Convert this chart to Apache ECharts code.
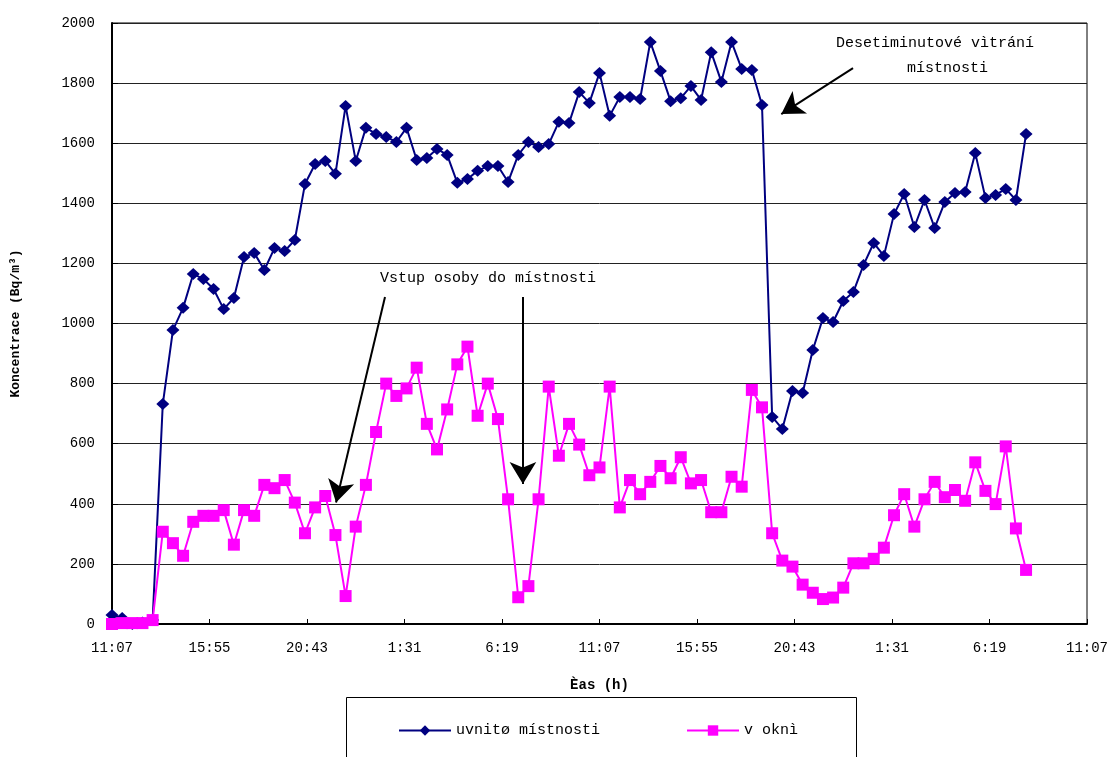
<!DOCTYPE html>
<html>
<head>
<meta charset="utf-8">
<script src="https://cdn.jsdelivr.net/npm/echarts@6/dist/echarts.min.js"></script>
<style>
  html, body { margin: 0; padding: 0; background: #fff; }
  #chart { width: 1115px; height: 757px; }
</style>
</head>
<body>
<div id="chart"></div>
<script>
// time of each sample, hours after 11:07 (one sample every 30 min)
const sampleHours = [
  0, 0.5, 1, 1.5, 2, 2.5, 3, 3.5, 4, 4.5, 5, 5.5, 6, 6.5, 7, 7.5, 8, 8.5, 9, 9.5,
  10, 10.5, 11, 11.5, 12, 12.5, 13, 13.5, 14, 14.5, 15, 15.5, 16, 16.5, 17, 17.5, 18, 18.5, 19, 19.5,
  20, 20.5, 21, 21.5, 22, 22.5, 23, 23.5, 24, 24.5, 25, 25.5, 26, 26.5, 27, 27.5, 28, 28.5, 29, 29.5,
  30, 30.5, 31, 31.5, 32, 32.5, 33, 33.5, 34, 34.5, 35, 35.5, 36, 36.5, 37, 37.5, 38, 38.5, 39, 39.5,
  40, 40.5, 41, 41.5, 42, 42.5, 43, 43.5, 44, 44.5, 45
];

// uvnitř místnosti
const inside = [
  30, 20, 0, 5, 13, 732, 978, 1052, 1165, 1148, 1115, 1048, 1085, 1221, 1235, 1178, 1251, 1241, 1278, 1464,
  1531, 1541, 1498, 1724, 1541, 1651, 1631, 1621, 1604, 1651, 1544, 1551, 1581, 1561, 1468, 1481, 1508, 1524, 1524, 1471,
  1561, 1604, 1587, 1597, 1671, 1667, 1770, 1734, 1834, 1691, 1754, 1754, 1747, 1937, 1840, 1740, 1750, 1790, 1744, 1903,
  1804, 1937, 1847, 1844, 1727, 689, 649, 775, 769, 912, 1018, 1005, 1075, 1105, 1195, 1268, 1225, 1364, 1431, 1321,
  1411, 1318, 1404, 1434, 1438, 1567, 1418, 1428, 1448, 1411, 1631
];

// v okně
const window_ = [
  0, 3, 3, 3, 13, 307, 269, 227, 340, 360, 360, 379, 264, 379, 360, 463, 452, 479, 404, 302,
  388, 426, 296, 93, 324, 463, 639, 800, 759, 784, 853, 666, 581, 714, 864, 923, 693, 800, 682, 415,
  89, 126, 415, 790, 560, 666, 597, 495, 521, 790, 388, 479, 432, 473, 526, 485, 555, 468, 479, 372,
  372, 490, 457, 779, 721, 302, 211, 191, 131, 104, 83, 88, 121, 202, 202, 217, 254, 362, 432, 324,
  415, 473, 422, 446, 410, 538, 443, 399, 591, 318, 180
];

const timeLabels = ['11:07', '15:55', '20:43', '1:31', '6:19', '11:07', '15:55', '20:43', '1:31', '6:19', '11:07'];

const MONO = '"Liberation Mono", "DejaVu Sans Mono", monospace';

const chart = echarts.init(document.getElementById('chart'));

const arrowLine = { color: '#000', width: 2, type: 'solid' };

const option = {
  animation: false,
  backgroundColor: '#fff',
  grid: {
    left: 112, right: 28, top: 23, bottom: 133,
    outerBoundsMode: 'none',
    show: true, borderColor: '#000', borderWidth: 1,
  },
  xAxis: {
    type: 'value',
    min: 0, max: 48, interval: 4.8,
    name: 'Èas (h)',
    nameLocation: 'middle',
    nameGap: 54,
    nameTextStyle: { fontFamily: MONO, fontWeight: 'bold', fontSize: 14, color: '#000' },
    axisLine: { lineStyle: { color: '#000', width: 2 } },
    axisTick: { inside: true, length: 5, lineStyle: { color: '#000' } },
    axisLabel: {
      margin: 17, fontFamily: MONO, fontSize: 14, color: '#000',
      formatter: (v) => timeLabels[Math.round(v / 4.8)],
    },
    splitLine: { show: false },
  },
  yAxis: {
    type: 'value',
    min: 0, max: 2000, interval: 200,
    name: 'Koncentrace (Bq/m³)',
    nameLocation: 'middle',
    nameGap: 90,
    nameTextStyle: { fontFamily: MONO, fontWeight: 'bold', fontSize: 13, color: '#000' },
    axisLine: { show: true, lineStyle: { color: '#000', width: 2 } },
    axisTick: { show: true, inside: true, length: 6, lineStyle: { color: '#000' } },
    axisLabel: {
      margin: 17, fontFamily: MONO, fontSize: 14, color: '#000',
      formatter: (v) => String(v),
    },
    splitLine: { lineStyle: { color: '#222', width: 1 } },
  },
  legend: {
    left: 393, top: 718,
    itemWidth: 52, itemHeight: 13, itemGap: 86,
    textStyle: { fontFamily: MONO, fontSize: 15, color: '#000' },
    data: ['uvnitø místnosti', 'v oknì'],
  },
  graphic: [
    {
      type: 'rect', z: -1,
      shape: { x: 346.5, y: 697.5, width: 510, height: 80 },
      style: { fill: '#fff', stroke: '#000', lineWidth: 1 },
    },
    {
      type: 'text', left: 836, top: 36,
      style: { text: 'Desetiminutové vìtrání', font: '15px ' + MONO, fill: '#000' },
    },
    {
      type: 'text', left: 907, top: 61,
      style: { text: 'místnosti', font: '15px ' + MONO, fill: '#000' },
    },
    {
      type: 'text', left: 380, top: 271,
      style: { text: 'Vstup osoby do místnosti', font: '15px ' + MONO, fill: '#000' },
    },
  ],
  series: [
    {
      name: 'uvnitø místnosti',
      type: 'line',
      data: sampleHours.map((h, i) => [h, inside[i]]),
      symbol: 'diamond',
      symbolSize: [13, 12],
      itemStyle: { color: '#000080' },
      lineStyle: { color: '#000080', width: 2 },
      z: 2,
      markLine: {
        silent: true,
        label: { show: false },
        lineStyle: arrowLine,
        symbolSize: [20, 22],
        data: [
          [{ coord: [36.48, 1850], symbol: 'none' }, { coord: [32.95, 1697], symbol: 'arrow' }],
          [{ coord: [13.44, 1088], symbol: 'none' }, { coord: [11.03, 404], symbol: 'arrow' }],
          [{ coord: [20.23, 1088], symbol: 'none' }, { coord: [20.23, 466], symbol: 'arrow' }],
        ],
      },
    },
    {
      name: 'v oknì',
      type: 'line',
      data: sampleHours.map((h, i) => [h, window_[i]]),
      symbol: 'rect',
      symbolSize: 12,
      itemStyle: { color: '#FF00FF' },
      lineStyle: { color: '#FF00FF', width: 2 },
      z: 3,
    },
  ],
};

chart.setOption(option);
</script>
</body>
</html>
